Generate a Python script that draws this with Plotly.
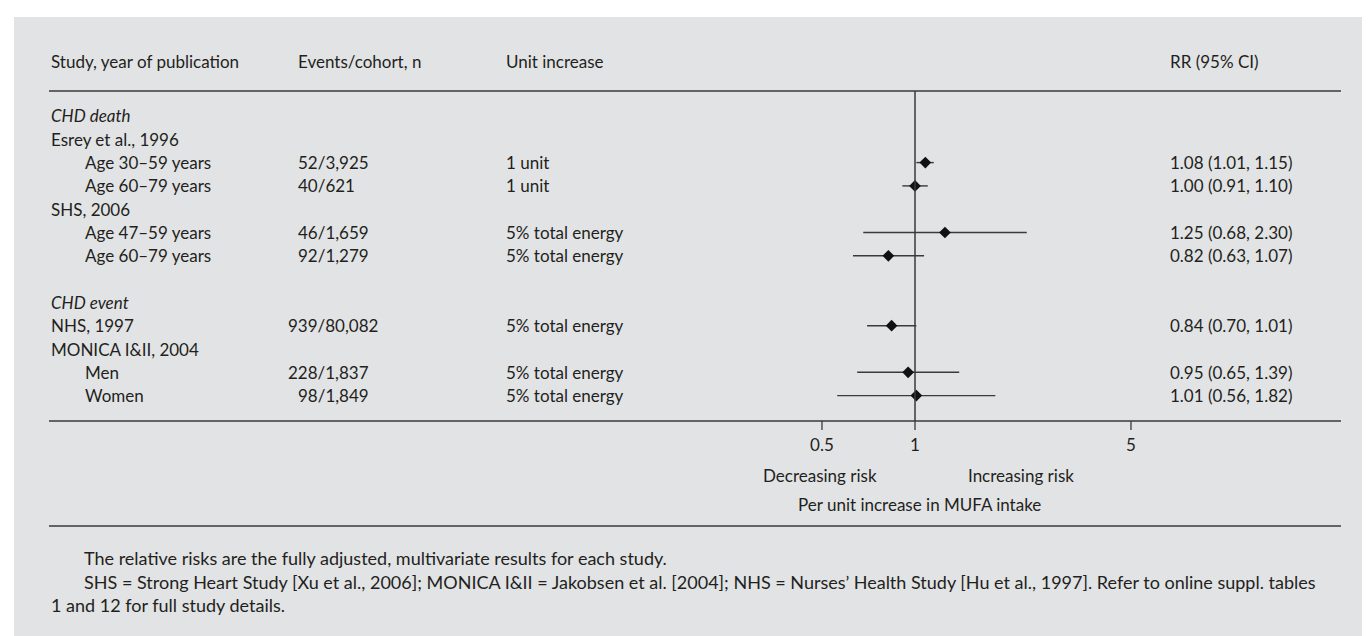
import plotly.graph_objects as go

# ---- data ----
row_labels = ["CHD death", "Esrey et al., 1996", "Age 30–59 years", "Age 60–79 years",
              "SHS, 2006", "Age 47–59 years", "Age 60–79 years", "",
              "CHD event", "NHS, 1997", "MONICA I&II, 2004", "Men", "Women"]
row_kind = ["italic", "study", "sub", "sub", "study", "sub", "sub", "blank",
            "italic", "study", "study", "sub", "sub"]
events = ["", "", "52/3,925", "40/621", "", "46/1,659", "92/1,279", "",
          "", "939/80,082", "", "228/1,837", "98/1,849"]
units = ["", "", "1 unit", "1 unit", "", "5% total energy", "5% total energy", "",
         "", "5% total energy", "", "5% total energy", "5% total energy"]
rr = [None, None, 1.08, 1.00, None, 1.25, 0.82, None, None, 0.84, None, 0.95, 1.01]
lo = [None, None, 1.01, 0.91, None, 0.68, 0.63, None, None, 0.70, None, 0.65, 0.56]
hi = [None, None, 1.15, 1.10, None, 2.30, 1.07, None, None, 1.01, None, 1.39, 1.82]
tick_vals = [0.5, 1, 5]
tick_text = ["0.5", "1", "5"]
headers = ["Study, year of publication", "Events/cohort, n", "Unit increase", "RR (95% CI)"]
notes = ["The relative risks are the fully adjusted, multivariate results for each study.",
         "SHS = Strong Heart Study [Xu et al., 2006]; MONICA I&II = Jakobsen et al. [2004]; NHS = Nurses’ Health Study [Hu et al., 1997]. Refer to online suppl. tables",
         "1 and 12 for full study details."]

W, H = 1370, 636
FONT = "Lato"
FS = 17
TC = "#231f20"
LC = "#3a3a3a"
def px(x): return x / W
def py(y): return 1 - y / H
Y0, DY = 108, 23.3
def yi(pix): return (pix - Y0) / DY

fig = go.Figure()

idx = [i for i, v in enumerate(rr) if v is not None]
fig.add_trace(go.Scatter(
    x=[rr[i] for i in idx], y=idx, mode="markers",
    marker=dict(symbol="diamond", size=9, color="#111"),
    error_x=dict(type="data", symmetric=False,
                 array=[hi[i] - rr[i] for i in idx],
                 arrayminus=[rr[i] - lo[i] for i in idx],
                 width=0, thickness=1.4, color=LC),
    showlegend=False, hoverinfo="skip"))

fig.add_trace(go.Scatter(x=[1, 1], y=[yi(83), yi(413)], mode="lines",
                         line=dict(color=LC, width=1.5), showlegend=False, hoverinfo="skip"))
tx, ty = [], []
for t in tick_vals:
    tx += [t, t, None]
    ty += [yi(413), yi(422), None]
fig.add_trace(go.Scatter(x=tx, y=ty, mode="lines", line=dict(color=LC, width=1.3),
                         showlegend=False, hoverinfo="skip"))
fig.add_trace(go.Scatter(x=tick_vals, y=[yi(439)] * 3, mode="text", text=tick_text,
                         textfont=dict(family=FONT, size=FS, color=TC),
                         showlegend=False, hoverinfo="skip"))

left, right = 41, 1333
ppd = 309.0
fig.update_layout(
    width=W, height=H, margin=dict(l=0, r=0, t=0, b=0),
    paper_bgcolor="white", plot_bgcolor="rgba(0,0,0,0)",
    xaxis=dict(type="log", domain=[px(left), px(right)],
               range=[(left - 907) / ppd, (right - 907) / ppd], visible=False),
    yaxis=dict(domain=[0, 1], range=[yi(H), yi(0)], visible=False),
    font=dict(family=FONT, size=FS, color=TC),
)

shapes = [
    dict(type="rect", xref="paper", yref="paper", x0=px(6), x1=1, y0=0, y1=py(9),
         fillcolor="#e2e3e5", line=dict(width=0), layer="below"),
]
for yl in [83, 413, 518]:
    shapes.append(dict(type="line", xref="paper", yref="paper", x0=px(left), x1=px(right),
                       y0=py(yl), y1=py(yl), line=dict(color=LC, width=1.4)))
fig.update_layout(shapes=shapes)

ann = []
def txt(x, y, s, anchor="left", italic=False, size=FS):
    ann.append(dict(xref="paper", yref="paper", x=px(x), y=py(y), text=s, showarrow=False,
                    xanchor=anchor, yanchor="middle",
                    font=dict(family=FONT, size=size, color=TC,
                              style="italic" if italic else "normal")))

hx = [41, 288, 496, 1160]
for h, x in zip(headers, hx):
    txt(x, 53, h)

ev_x = {"939/80,082": 278, "228/1,837": 278}
for i, lab in enumerate(row_labels):
    yp = Y0 + DY * i
    k = row_kind[i]
    if k == "blank":
        continue
    txt(75 if k == "sub" else 41, yp, lab, italic=(k == "italic"))
    if events[i]:
        txt(ev_x.get(events[i], 288), yp, events[i])
    if units[i]:
        txt(496, yp, units[i])
    if rr[i] is not None:
        txt(1160, yp, f"{rr[i]:.2f} ({lo[i]:.2f}, {hi[i]:.2f})")

txt(812, 467, "Decreasing risk", "center")
txt(1013, 467, "Increasing risk", "center")
txt(911, 496, "Per unit increase in MUFA intake", "center")

txt(74, 550, notes[0], size=18)
txt(74, 574, notes[1], size=18)
txt(41, 597, notes[2], size=18)
fig.update_layout(annotations=ann)

fig.write_html("out.html")
